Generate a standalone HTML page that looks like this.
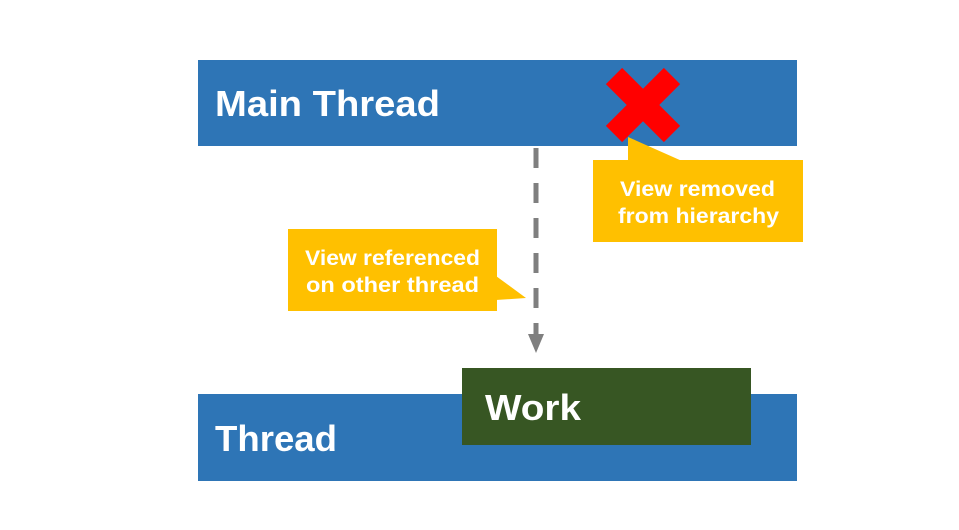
<!DOCTYPE html>
<html><head><meta charset="utf-8"><style>
html,body{margin:0;padding:0;background:#fff;}
body{width:959px;height:530px;position:relative;overflow:hidden;font-family:"Liberation Sans","Noto Sans CJK KR",sans-serif;}
</style></head><body>
<svg width="959" height="530" style="position:absolute;left:0;top:0" font-family="Liberation Sans, Noto Sans CJK KR, sans-serif">
<rect x="198" y="60" width="599" height="86" fill="#2e75b6"/>
<text x="215" y="116" font-size="36" font-weight="bold" fill="#fff" textLength="225" lengthAdjust="spacingAndGlyphs">Main Thread</text>
<rect x="198" y="394" width="599" height="87" fill="#2e75b6"/>
<text x="215" y="451" font-size="36" font-weight="bold" fill="#fff" textLength="122" lengthAdjust="spacingAndGlyphs">Thread</text>
<rect x="462" y="368" width="289" height="77" fill="#375623"/>
<text x="485" y="420" font-size="36" font-weight="bold" fill="#fff" textLength="96" lengthAdjust="spacingAndGlyphs">Work</text>
<g stroke="#ff0000" stroke-width="23">
<line x1="614" y1="76" x2="672" y2="134"/>
<line x1="672" y1="76" x2="614" y2="134"/>
</g>
<polygon points="628,137 628,161 682,161" fill="#ffc000"/>
<rect x="593" y="160" width="210" height="82" fill="#ffc000"/>
<text x="620" y="196" font-size="21" font-weight="bold" fill="#fff" textLength="155" lengthAdjust="spacingAndGlyphs">View removed</text>
<text x="618" y="223" font-size="21" font-weight="bold" fill="#fff" textLength="161" lengthAdjust="spacingAndGlyphs">from hierarchy</text>
<polygon points="496,276 526,298 496,300" fill="#ffc000"/>
<rect x="288" y="229" width="209" height="82" fill="#ffc000"/>
<text x="305" y="265" font-size="21" font-weight="bold" fill="#fff" textLength="175" lengthAdjust="spacingAndGlyphs">View referenced</text>
<text x="306" y="292" font-size="21" font-weight="bold" fill="#fff" textLength="173" lengthAdjust="spacingAndGlyphs">on other thread</text>
<line x1="536" y1="148" x2="536" y2="336" stroke="#7f7f7f" stroke-width="5" stroke-dasharray="20,15"/>
<polygon points="528,334 544,334 536,353" fill="#7f7f7f"/>
</svg>
</body></html>
